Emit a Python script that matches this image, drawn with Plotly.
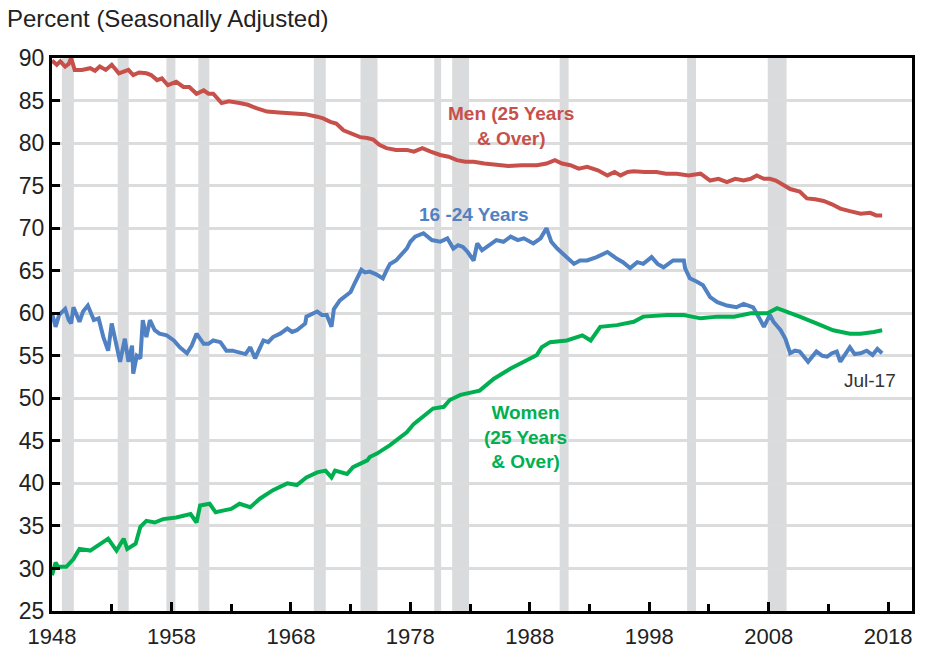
import plotly.graph_objects as go

# Employment-population ratios, seasonally adjusted (percent)
men_year = [1948.0, 1948.4, 1948.7, 1949.1, 1949.4, 1949.6, 1949.9, 1950.5, 1951.2, 1951.6,
            1952.0, 1952.5, 1953.0, 1953.6, 1954.0, 1954.4, 1954.8, 1955.3, 1955.9, 1956.3,
            1956.8, 1957.2, 1957.7, 1958.4, 1959.0, 1959.5, 1960.1, 1960.7, 1961.1, 1961.5,
            1962.2, 1962.8, 1963.7, 1964.4, 1965.1, 1966.0, 1967.0, 1968.2, 1969.2, 1970.2,
            1970.7, 1971.3, 1971.8, 1972.4, 1973.0, 1973.8, 1974.4, 1974.9, 1975.4, 1976.0,
            1976.8, 1977.7, 1978.3, 1979.0, 1979.7, 1980.5, 1981.2, 1981.9, 1982.6, 1983.3,
            1984.2, 1985.2, 1986.2, 1987.3, 1988.6, 1989.4, 1990.1, 1990.7, 1991.4, 1992.1,
            1992.8, 1993.7, 1994.5, 1995.1, 1995.6, 1996.2, 1996.7, 1997.6, 1998.6, 1999.4,
            2000.3, 2001.3, 2002.3, 2003.1, 2003.8, 2004.5, 2005.2, 2005.9, 2006.5, 2007.0,
            2007.6, 2008.1, 2008.6, 2009.2, 2009.8, 2010.6, 2011.2, 2011.9, 2012.6, 2013.3,
            2014.0, 2014.8, 2015.7, 2016.5, 2017.0, 2017.5]
men_val = [89.7, 89.2, 89.6, 89.0, 89.3, 90.0, 88.6, 88.6, 88.8, 88.5,
           89.0, 88.6, 89.2, 88.2, 88.4, 88.6, 88.0, 88.3, 88.2, 88.0,
           87.4, 87.6, 86.8, 87.2, 86.6, 86.6, 85.8, 86.2, 85.8, 85.8,
           84.7, 84.9, 84.7, 84.5, 84.1, 83.7, 83.6, 83.5, 83.4, 83.1,
           82.9, 82.5, 82.3, 81.5, 81.2, 80.7, 80.6, 80.4, 79.8, 79.4,
           79.2, 79.2, 79.0, 79.4, 79.0, 78.6, 78.4, 78.0, 77.8, 77.8,
           77.6, 77.4, 77.3, 77.4, 77.4, 77.6, 78.0, 77.6, 77.4, 77.0,
           77.2, 76.8, 76.2, 76.6, 76.2, 76.6, 76.7, 76.6, 76.6, 76.4,
           76.4, 76.2, 76.4, 75.6, 75.8, 75.4, 75.8, 75.6, 75.8, 76.2,
           75.8, 75.8, 75.6, 75.1, 74.6, 74.3, 73.5, 73.4, 73.2, 72.8,
           72.3, 72.0, 71.7, 71.8, 71.5, 71.5]

youth_year = [1948.0, 1948.3, 1948.6, 1949.1, 1949.4, 1949.6, 1949.8, 1950.3, 1950.6, 1951.0,
              1951.5, 1951.9, 1952.3, 1952.7, 1953.0, 1953.4, 1953.7, 1954.1, 1954.4, 1954.7,
              1954.8, 1955.1, 1955.4, 1955.6, 1955.9, 1956.2, 1956.6, 1957.0, 1957.6, 1958.2,
              1958.7, 1959.3, 1959.7, 1960.1, 1960.7, 1961.1, 1961.5, 1962.1, 1962.6, 1963.1,
              1963.7, 1964.2, 1964.6, 1965.0, 1965.7, 1966.1, 1966.5, 1967.1, 1967.7, 1968.1,
              1968.5, 1969.2, 1969.3, 1970.2, 1970.6, 1971.0, 1971.4, 1971.6, 1972.1, 1972.6,
              1973.0, 1973.4, 1973.9, 1974.2, 1974.6, 1975.1, 1975.7, 1976.0, 1976.3, 1976.8,
              1977.3, 1977.7, 1978.0, 1978.4, 1979.1, 1979.8, 1980.5, 1981.1, 1981.6, 1982.0,
              1982.4, 1982.8, 1983.3, 1983.6, 1984.0, 1984.4, 1985.2, 1985.8, 1986.4, 1987.0,
              1987.5, 1988.3, 1988.9, 1989.4, 1989.8, 1990.3, 1991.1, 1991.7, 1992.2, 1992.8,
              1993.6, 1994.5, 1995.3, 1995.8, 1996.4, 1997.0, 1997.5, 1998.2, 1998.7, 1999.2,
              2000.0, 2000.9, 2001.0, 2001.4, 2002.0, 2002.5, 2003.1, 2003.7, 2004.5, 2005.3,
              2005.9, 2006.7, 2007.3, 2007.6, 2008.1, 2008.4, 2009.0, 2009.4, 2009.8, 2010.2,
              2010.6, 2011.3, 2012.0, 2012.5, 2012.9, 2013.3, 2013.7, 2014.0, 2014.8, 2015.2,
              2015.7, 2016.2, 2016.7, 2017.1, 2017.5]
youth_val = [60.0, 58.4, 59.8, 60.5, 59.2, 58.8, 60.7, 59.0, 60.2, 60.9,
             59.2, 59.4, 57.2, 55.6, 58.8, 56.5, 54.3, 57.0, 54.3, 56.2,
             52.9, 55.0, 54.7, 59.2, 57.2, 59.2, 58.0, 57.6, 57.4, 56.8,
             56.0, 55.3, 56.2, 57.6, 56.4, 56.4, 56.8, 56.6, 55.6, 55.6,
             55.4, 55.2, 56.0, 54.7, 56.8, 56.6, 57.2, 57.6, 58.2, 57.8,
             58.0, 58.8, 59.6, 60.2, 59.8, 59.8, 58.4, 60.5, 61.5, 62.0,
             62.5, 63.7, 65.1, 64.8, 64.9, 64.6, 64.1, 65.0, 65.8, 66.2,
             67.0, 67.6, 68.4, 69.0, 69.4, 68.6, 68.4, 68.8, 67.6, 68.0,
             67.8, 67.2, 66.2, 68.2, 67.4, 67.8, 68.6, 68.4, 69.0, 68.6,
             68.8, 68.2, 68.8, 70.0, 68.4, 67.6, 66.6, 65.8, 66.2, 66.2,
             66.6, 67.2, 66.4, 66.0, 65.3, 66.0, 65.8, 66.6, 65.8, 65.4,
             66.2, 66.2, 65.3, 64.1, 63.7, 63.3, 61.9, 61.3, 60.9, 60.7,
             61.1, 60.7, 59.2, 58.4, 59.8, 59.0, 58.0, 57.0, 55.3, 55.6,
             55.5, 54.3, 55.5, 55.0, 54.9, 55.3, 55.5, 54.3, 56.0, 55.2,
             55.3, 55.6, 55.1, 55.8, 55.3]

women_year = [1948.0, 1948.3, 1948.5, 1949.2, 1949.8, 1950.3, 1951.2, 1952.0, 1952.7, 1953.4,
              1954.0, 1954.3, 1955.0, 1955.4, 1955.9, 1956.6, 1957.3, 1958.4, 1959.6, 1960.1,
              1960.4, 1961.2, 1961.7, 1962.3, 1963.0, 1963.7, 1964.6, 1965.4, 1966.5, 1967.7,
              1968.5, 1969.3, 1970.2, 1970.9, 1971.4, 1971.7, 1972.7, 1973.2, 1974.4, 1974.6,
              1975.2, 1976.3, 1977.1, 1977.7, 1978.3, 1978.8, 1979.9, 1980.8, 1981.3, 1982.2,
              1983.0, 1983.8, 1985.0, 1986.4, 1987.5, 1988.6, 1989.0, 1989.7, 1991.1, 1992.4,
              1993.1, 1993.9, 1995.3, 1996.7, 1997.5, 1999.5, 2000.9, 2002.3, 2003.7, 2005.1,
              2006.5, 2007.9, 2008.7, 2009.5, 2010.6, 2012.0, 2013.4, 2014.8, 2015.7, 2016.8,
              2017.5]
women_val = [29.2, 30.7, 30.2, 30.2, 31.1, 32.3, 32.1, 32.9, 33.5, 32.1,
             33.5, 32.3, 32.9, 34.9, 35.6, 35.4, 35.8, 36.0, 36.4, 35.4,
             37.4, 37.6, 36.6, 36.8, 37.0, 37.6, 37.2, 38.2, 39.2, 40.0,
             39.8, 40.7, 41.3, 41.5, 40.7, 41.5, 41.1, 41.9, 42.7, 43.1,
             43.5, 44.5, 45.3, 46.0, 47.0, 47.6, 48.8, 49.0, 49.8, 50.4,
             50.7, 50.9, 52.3, 53.5, 54.3, 55.1, 56.0, 56.6, 56.8, 57.4,
             56.8, 58.4, 58.6, 59.0, 59.6, 59.8, 59.8, 59.4, 59.6, 59.6,
             60.0, 60.0, 60.6, 60.2, 59.6, 58.8, 58.0, 57.6, 57.6, 57.8,
             58.0]

# Recession periods (start, end) in decimal years
rec_start = [1948.83, 1953.50, 1957.58, 1960.25, 1969.92, 1973.83, 1980.00, 1981.50, 1990.50, 2001.17, 2007.92]
rec_end = [1949.83, 1954.42, 1958.33, 1961.17, 1970.92, 1975.25, 1980.58, 1982.92, 1991.25, 2001.92, 2009.50]

x_ticks = [1948, 1958, 1968, 1978, 1988, 1998, 2008, 2018]
y_ticks = [25, 30, 35, 40, 45, 50, 55, 60, 65, 70, 75, 80, 85, 90]

RED = "#C8504B"
BLUE = "#4F81C3"
GREEN = "#00B050"
FONT = "Liberation Sans, Arial, sans-serif"
TEXT = "#222222"

fig = go.Figure()

for yr, val, col in [(men_year, men_val, RED),
                     (youth_year, youth_val, BLUE),
                     (women_year, women_val, GREEN)]:
    fig.add_trace(go.Scatter(x=yr, y=val, mode="lines",
                             line=dict(color=col, width=4),
                             hoverinfo="skip", showlegend=False))

for s, e in zip(rec_start, rec_end):
    fig.add_shape(type="rect", xref="x", yref="y domain", x0=s, x1=e, y0=0, y1=1,
                  fillcolor="#DADBDC", line=dict(width=0), layer="below")

label_font = dict(family=FONT, size=19, weight="bold")
fig.add_annotation(x=1986.4, y=82.0, xref="x", yref="y",
                   text="Men (25 Years<br>& Over)", showarrow=False,
                   font=dict(label_font, color=RED))
fig.add_annotation(x=1983.3, y=71.65, xref="x", yref="y",
                   text="16 -24 Years", showarrow=False,
                   font=dict(label_font, color=BLUE))
fig.add_annotation(x=1987.6, y=45.5, xref="x", yref="y",
                   text="Women<br>(25 Years<br>& Over)", showarrow=False,
                   font=dict(label_font, color=GREEN))
fig.add_annotation(x=2016.5, y=52.1, xref="x", yref="y",
                   text="Jul-17", showarrow=False,
                   font=dict(family=FONT, size=19, color="#333333"))
fig.add_annotation(x=-0.0547, y=1.0723, xref="paper", yref="paper",
                   xanchor="left", yanchor="middle",
                   text="Percent (Seasonally Adjusted)", showarrow=False,
                   font=dict(family=FONT, size=24, color=TEXT))

fig.update_layout(
    width=933, height=656,
    margin=dict(l=52, r=21, t=58, b=45, autoexpand=False),
    paper_bgcolor="white", plot_bgcolor="white",
    font=dict(family=FONT, size=22, color=TEXT),
    xaxis=dict(range=[1948, 2020], tickvals=x_ticks, ticktext=[str(t) for t in x_ticks],
               automargin=False, showgrid=False, zeroline=False,
               showline=True, linecolor="black", linewidth=3, mirror=True,
               ticks="inside", ticklen=9, tickwidth=2.5, tickcolor="black",
               ticklabelstandoff=4,
               minor=dict(tickvals=[1953, 1963, 1973, 1983, 1993, 2003, 2013],
                          ticks="inside", ticklen=7, tickwidth=2.5, tickcolor="black",
                          showgrid=False),
               tickfont=dict(family=FONT, size=22, color=TEXT)),
    yaxis=dict(range=[25, 90], tickvals=y_ticks,
               automargin=False,
               showgrid=True, gridcolor="#DCDCDC", gridwidth=3, zeroline=False,
               showline=True, linecolor="black", linewidth=3, mirror=True,
               ticks="inside", ticklen=8, tickwidth=3, tickcolor="black",
               tickfont=dict(family=FONT, size=23, color=TEXT)),
)

fig.write_html("out.html")
